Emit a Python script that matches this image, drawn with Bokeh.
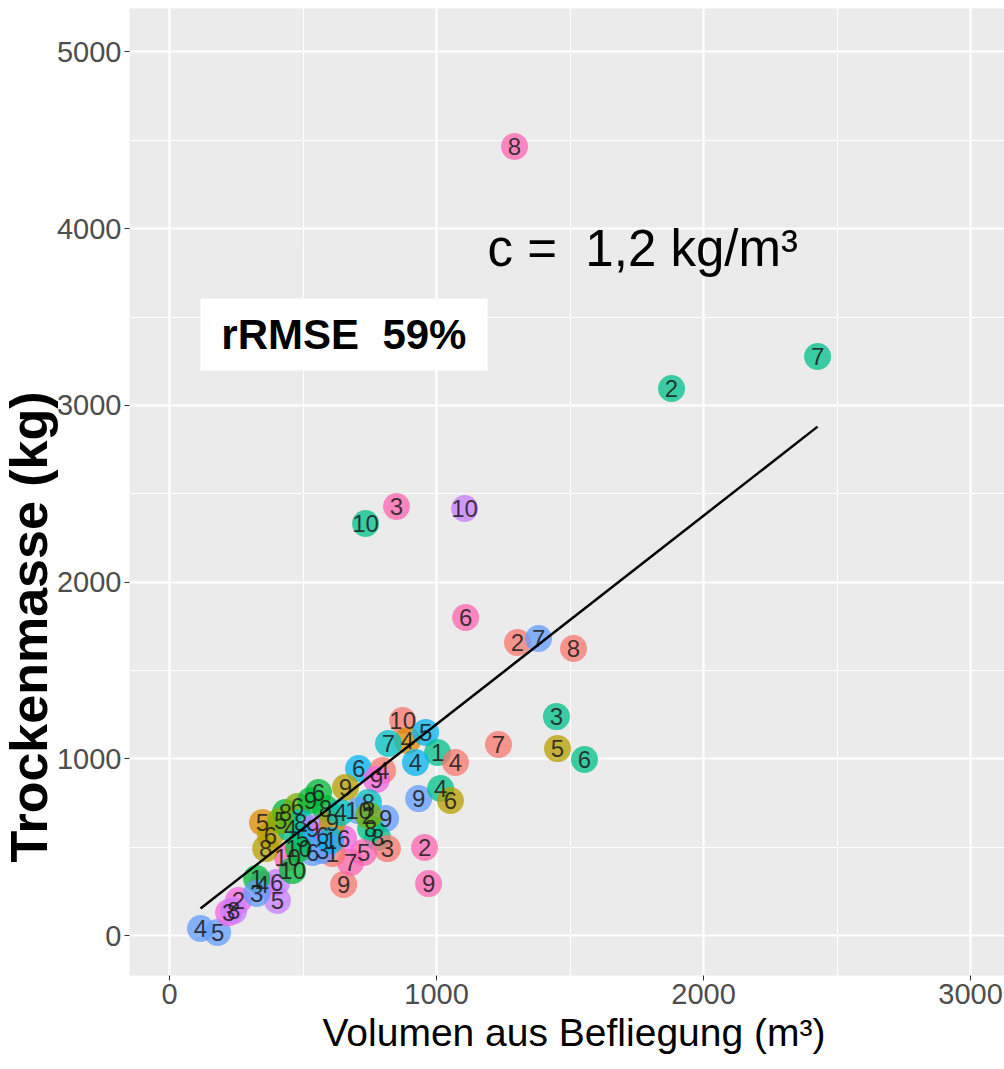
from bokeh.plotting import figure
from bokeh.models import ColumnDataSource, FixedTicker, Label, BoxAnnotation, Title
from bokeh.core.properties import value
from bokeh.embed import file_html
from bokeh.resources import INLINE

# ---- data ----
volume = [1292, 2427, 1880, 850, 1105, 734, 1109, 1303, 1382, 1513,
          1449, 1453, 1554, 1232, 873, 891, 959, 820, 1004, 921,
          1071, 708, 798, 775, 933, 1015, 1052, 659, 745, 708,
          809, 753, 779, 816, 955, 970, 652, 678, 727, 652,
          610, 116, 180, 258, 221, 240, 348, 401, 404, 326,
          326, 442, 461, 348, 378, 360, 434, 479, 528, 558,
          584, 491, 536, 573, 498, 536, 573, 483, 610, 453,
          603, 640, 416, 745]
mass = [4465, 3277, 3096, 2428, 2417, 2332, 1800, 1658, 1681, 1624,
        1239, 1058, 996, 1081, 1217, 1104, 1149, 1087, 1036, 979,
        979, 945, 934, 883, 775, 832, 764, 838, 753, 707,
        662, 606, 555, 492, 498, 294, 289, 413, 470, 549,
        464, 40, 17, 198, 130, 141, 289, 300, 198, 323,
        238, 441, 368, 640, 566, 492, 696, 730, 764, 809,
        719, 640, 606, 566, 549, 470, 481, 492, 640, 606,
        538, 696, 651, 679]
labels = ["8", "7", "2", "3", "10", "10", "6", "2", "7", "8",
          "3", "5", "6", "7", "10", "4", "5", "7", "1", "4",
          "4", "6", "4", "9", "9", "4", "6", "9", "8", "10",
          "9", "8", "8", "3", "2", "9", "9", "7", "5", "6",
          "1", "4", "5", "2", "3", "8", "4", "6", "5", "1",
          "3", "10", "10", "5", "6", "8", "8", "6", "9", "6",
          "8", "8", "9", "6", "5", "6", "3", "10", "9", "4",
          "1", "4", "5", "2"]
site = [12, 6, 6, 12, 10, 6, 12, 1, 9, 1,
        6, 3, 6, 1, 1, 2, 8, 7, 6, 8,
        1, 8, 1, 11, 9, 6, 3, 3, 7, 9,
        9, 6, 6, 1, 12, 12, 1, 12, 12, 11,
        1, 9, 9, 11, 11, 10, 10, 10, 10, 5,
        9, 12, 5, 2, 3, 3, 5, 4, 5, 5,
        5, 7, 10, 11, 8, 9, 9, 5, 3, 6,
        8, 7, 4, 4]
palette = ["#F8766D", "#DE8C00", "#B79F00", "#7CAE00", "#00BA38", "#00C08B",
           "#00BFC4", "#00B4F0", "#619CFF", "#C77CFF", "#F564E3", "#FF64B0"]

fit_slope = 1.18
fit_intercept = 16

x_ticks = [0, 1000, 2000, 3000]
x_minor = [500, 1500, 2500]
y_ticks = [0, 1000, 2000, 3000, 4000, 5000]
y_minor = [500, 1500, 2500, 3500, 4500]

density_text = "c =\u00a0 1,2 kg/m³"
rmse_text = "rRMSE\u00a0 59%"
x_title = "Volumen aus Befliegung (m³)"
y_title = "Trockenmasse (kg)"

# ---- figure ----
FONT = "Liberation Sans"
W, H = 1004, 1069
LEFT, BOTTOM = 129, 94
p = figure(width=W, height=H, x_range=(-150, 3127), y_range=(-226, 5246),
           output_backend="svg", toolbar_location=None,
           min_border_left=LEFT, min_border_right=0, min_border_top=8,
           min_border_bottom=BOTTOM)
p.background_fill_color = "#EBEBEB"
p.border_fill_color = "white"
p.outline_line_color = None

p.xaxis.ticker = FixedTicker(ticks=x_ticks, minor_ticks=x_minor)
p.yaxis.ticker = FixedTicker(ticks=y_ticks, minor_ticks=y_minor)
for ax in (p.xaxis, p.yaxis):
    ax.axis_line_color = None
    ax.major_tick_line_color = "#333333"
    ax.major_tick_line_width = 1
    ax.major_tick_out = 5
    ax.major_tick_in = 0
    ax.minor_tick_line_color = None
    ax.major_label_text_font = FONT
    ax.major_label_text_font_size = "29px"
    ax.major_label_text_color = "#4D4D4D"
p.xaxis.major_label_standoff = 3
p.yaxis.major_label_standoff = 3

# axis titles as side titles so they can sit where the reference puts them
p.add_layout(Title(text=y_title, align="left", offset=113, standoff=-8,
                   text_font=FONT, text_font_size="52px",
                   text_font_style="bold", text_color="black"), "left")
p.add_layout(Title(text=x_title, align="left", offset=193, standoff=5,
                   text_font=FONT, text_font_size="39px",
                   text_font_style="normal", text_color="black"), "below")

for g in (p.xgrid, p.ygrid):
    g.grid_line_color = "white"
    g.grid_line_width = 2.2
    g.minor_grid_line_color = "white"
    g.minor_grid_line_width = 1.1

src = ColumnDataSource(dict(x=volume, y=mass, label=labels,
                            color=[palette[s - 1] for s in site]))
p.scatter("x", "y", source=src, size=27, fill_color="color", line_color=None,
          fill_alpha=0.75)
p.text("x", "y", text="label", source=src, text_align="center",
       text_baseline="middle", text_font=value(FONT), text_font_size="24px",
       text_color="#1A1A1A", text_alpha=0.85)

xmin, xmax = min(volume), max(volume)
p.line([xmin, xmax], [fit_slope * xmin + fit_intercept, fit_slope * xmax + fit_intercept],
       line_color="black", line_width=2.5)

p.add_layout(Label(x=1191, y=3888, text=density_text, text_font=FONT,
                   text_font_size="51px", text_color="black",
                   text_align="left", text_baseline="middle"))
p.add_layout(BoxAnnotation(left=116, right=1191, bottom=3197, top=3605,
                           fill_color="white", fill_alpha=1, line_color=None))
p.add_layout(Label(x=653, y=3401, text=rmse_text, text_font=FONT,
                   text_font_size="42px", text_font_style="bold",
                   text_color="black", text_align="center",
                   text_baseline="middle"))

open("out.html", "w").write(file_html(p, INLINE))
